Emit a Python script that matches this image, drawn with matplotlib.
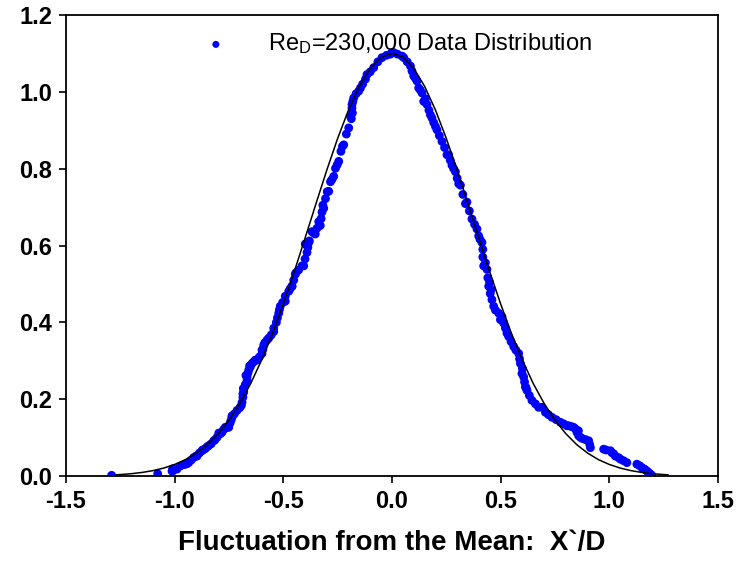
import matplotlib
matplotlib.use('Agg')
import matplotlib.pyplot as plt

# 数据点 (X'/D, 分布)
data_x = [-1.290, -1.078, -1.012, -1.009, -1.009, -0.990, -0.974, -0.955, -0.943, -0.936,
          -0.925, -0.913, -0.900, -0.897, -0.886, -0.874, -0.871, -0.860, -0.851, -0.844,
          -0.832, -0.820, -0.815, -0.805, -0.797, -0.790, -0.782, -0.775, -0.767, -0.760,
          -0.751, -0.745, -0.740, -0.736, -0.736, -0.725, -0.713, -0.700, -0.693, -0.690,
          -0.686, -0.686, -0.684, -0.682, -0.675, -0.672, -0.667, -0.667, -0.663, -0.659,
          -0.655, -0.652, -0.644, -0.637, -0.629, -0.621, -0.610, -0.598, -0.598, -0.594,
          -0.590, -0.585, -0.575, -0.567, -0.556, -0.544, -0.544, -0.532, -0.527, -0.521,
          -0.518, -0.514, -0.503, -0.491, -0.491, -0.475, -0.468, -0.460, -0.460, -0.452,
          -0.445, -0.442, -0.430, -0.414, -0.406, -0.400, -0.399, -0.391, -0.387, -0.383,
          -0.380, -0.368, -0.360, -0.353, -0.345, -0.337, -0.330, -0.326, -0.322, -0.318,
          -0.314, -0.306, -0.298, -0.291, -0.283, -0.276, -0.268, -0.260, -0.252, -0.245,
          -0.235, -0.228, -0.222, -0.210, -0.199, -0.190, -0.187, -0.184, -0.184, -0.182,
          -0.180, -0.176, -0.165, -0.153, -0.145, -0.135, -0.122, -0.115, -0.100, -0.084,
          -0.065, -0.046, -0.025, -0.007, 0.000, 0.008, 0.025, 0.046, 0.054, 0.070,
          0.085, 0.092, 0.100, 0.108, 0.115, 0.123, 0.130, 0.138, 0.146, 0.154,
          0.161, 0.170, 0.177, 0.184, 0.192, 0.200, 0.207, 0.218, 0.230, 0.242,
          0.253, 0.261, 0.268, 0.276, 0.284, 0.292, 0.300, 0.307, 0.315, 0.326,
          0.338, 0.345, 0.356, 0.368, 0.380, 0.391, 0.399, 0.405, 0.414, 0.418,
          0.418, 0.422, 0.430, 0.437, 0.441, 0.445, 0.449, 0.452, 0.456, 0.460,
          0.468, 0.476, 0.491, 0.499, 0.506, 0.514, 0.522, 0.529, 0.537, 0.548,
          0.560, 0.570, 0.583, 0.587, 0.591, 0.598, 0.600, 0.606, 0.610, 0.614,
          0.617, 0.621, 0.632, 0.644, 0.660, 0.675, 0.690, 0.706, 0.720, 0.736,
          0.755, 0.775, 0.790, 0.805, 0.813, 0.825, 0.836, 0.844, 0.851, 0.858,
          0.859, 0.867, 0.875, 0.890, 0.905, 0.910, 0.913, 0.974, 0.985, 1.005,
          1.012, 1.020, 1.028, 1.043, 1.051, 1.066, 1.081, 1.127, 1.140, 1.150,
          1.158, 1.165, 1.174, 1.181, 1.187, 1.194]
data_y = [0.002, 0.006, 0.013, 0.013, 0.019, 0.018, 0.026, 0.030, 0.032, 0.035,
          0.041, 0.048, 0.053, 0.052, 0.060, 0.066, 0.068, 0.071, 0.076, 0.079,
          0.084, 0.092, 0.094, 0.101, 0.112, 0.110, 0.114, 0.121, 0.127, 0.126,
          0.127, 0.138, 0.146, 0.153, 0.157, 0.162, 0.171, 0.178, 0.184, 0.192,
          0.205, 0.214, 0.228, 0.219, 0.238, 0.262, 0.249, 0.258, 0.268, 0.276,
          0.287, 0.284, 0.293, 0.297, 0.302, 0.302, 0.310, 0.319, 0.328, 0.330,
          0.341, 0.347, 0.354, 0.359, 0.367, 0.376, 0.385, 0.400, 0.412, 0.424,
          0.433, 0.442, 0.452, 0.455, 0.468, 0.481, 0.488, 0.494, 0.494, 0.510,
          0.525, 0.529, 0.536, 0.547, 0.547, 0.565, 0.604, 0.582, 0.595, 0.608,
          0.612, 0.636, 0.633, 0.630, 0.645, 0.662, 0.652, 0.670, 0.687, 0.705,
          0.697, 0.722, 0.740, 0.741, 0.766, 0.772, 0.780, 0.801, 0.810, 0.819,
          0.845, 0.858, 0.862, 0.890, 0.906, 0.935, 0.930, 0.958, 0.967, 0.945,
          0.975, 0.984, 0.995, 1.002, 1.010, 1.020, 1.033, 1.045, 1.052, 1.063,
          1.078, 1.089, 1.095, 1.098, 1.102, 1.102, 1.098, 1.093, 1.089, 1.078,
          1.067, 1.054, 1.041, 1.035, 1.028, 1.010, 1.005, 0.997, 0.975, 0.982,
          0.967, 0.952, 0.940, 0.932, 0.920, 0.910, 0.901, 0.886, 0.871, 0.855,
          0.836, 0.836, 0.822, 0.809, 0.800, 0.792, 0.775, 0.761, 0.757, 0.733,
          0.709, 0.713, 0.690, 0.669, 0.655, 0.643, 0.625, 0.616, 0.608, 0.590,
          0.570, 0.547, 0.555, 0.538, 0.516, 0.494, 0.505, 0.475, 0.485, 0.459,
          0.442, 0.432, 0.424, 0.407, 0.415, 0.398, 0.385, 0.372, 0.363, 0.350,
          0.337, 0.328, 0.319, 0.305, 0.293, 0.267, 0.280, 0.258, 0.245, 0.232,
          0.230, 0.223, 0.210, 0.197, 0.188, 0.179, 0.179, 0.166, 0.160, 0.153,
          0.147, 0.140, 0.136, 0.131, 0.131, 0.129, 0.127, 0.123, 0.114, 0.118,
          0.105, 0.101, 0.098, 0.095, 0.092, 0.082, 0.074, 0.070, 0.068, 0.066,
          0.061, 0.058, 0.052, 0.048, 0.044, 0.040, 0.035, 0.031, 0.027, 0.022,
          0.019, 0.017, 0.013, 0.009, 0.006, 0.003]

# 正态分布曲线
curve_x = [-1.27, -1.25, -1.20, -1.15, -1.10, -1.05, -1.00, -0.95, -0.90, -0.85,
           -0.80, -0.75, -0.70, -0.65, -0.60, -0.55, -0.50, -0.45, -0.40, -0.35,
           -0.30, -0.25, -0.20, -0.15, -0.10, -0.05, 0.00, 0.05, 0.10, 0.15,
           0.20, 0.25, 0.30, 0.35, 0.40, 0.45, 0.50, 0.55, 0.60, 0.65,
           0.70, 0.75, 0.80, 0.85, 0.90, 0.95, 1.00, 1.05, 1.10, 1.15,
           1.20, 1.25, 1.27]
curve_y = [0.0033, 0.0040, 0.0062, 0.0095, 0.0142, 0.0209, 0.0303, 0.0429, 0.0599, 0.0820,
           0.1103, 0.1457, 0.1891, 0.2410, 0.3017, 0.3709, 0.4480, 0.5314, 0.6191, 0.7083,
           0.7961, 0.8787, 0.9527, 1.0145, 1.0612, 1.0902, 1.1000, 1.0902, 1.0612, 1.0145,
           0.9527, 0.8787, 0.7961, 0.7083, 0.6191, 0.5314, 0.4480, 0.3709, 0.3017, 0.2410,
           0.1891, 0.1457, 0.1103, 0.0820, 0.0599, 0.0429, 0.0303, 0.0209, 0.0142, 0.0095,
           0.0062, 0.0040, 0.0033]

x_ticks = [-1.5, -1.0, -0.5, 0.0, 0.5, 1.0, 1.5]
y_ticks = [0.0, 0.2, 0.4, 0.6, 0.8, 1.0, 1.2]

plt.rcParams['font.family'] = ['Liberation Sans', 'DejaVu Sans']
plt.rcParams['mathtext.default'] = 'regular'

fig = plt.figure(figsize=(7.44, 5.75), dpi=100)
ax = fig.add_axes([0.0887, 0.172, 0.8763, 0.802])

ax.scatter(data_x, data_y, s=40, color='#0000ff', edgecolors='none',
           label=r'Re$_D$=230,000 Data Distribution', zorder=2)
ax.plot(curve_x, curve_y, color='black', linewidth=1.1, zorder=3)

ax.set_xlim(-1.5, 1.5)
ax.set_ylim(0, 1.2)
ax.set_xticks(x_ticks)
ax.set_yticks(y_ticks)
ax.set_xticklabels(['%.1f' % v for v in x_ticks], fontsize=17, fontweight='bold')
ax.set_yticklabels(['%.1f' % v for v in y_ticks], fontsize=17, fontweight='bold')
ax.tick_params(direction='out', length=5, width=1.2, top=False, right=False, pad=5)
for sp in ax.spines.values():
    sp.set_linewidth(1.3)

ax.set_xlabel('Fluctuation from the Mean:  X`/D', fontsize=20, fontweight='bold', labelpad=12)

ax.legend(loc='upper center', bbox_to_anchor=(0.5, 1.01), frameon=False, fontsize=17,
          handletextpad=1.2, markerscale=0.8, scatterpoints=1)

plt.savefig('out.png', dpi=100)
plt.close()
